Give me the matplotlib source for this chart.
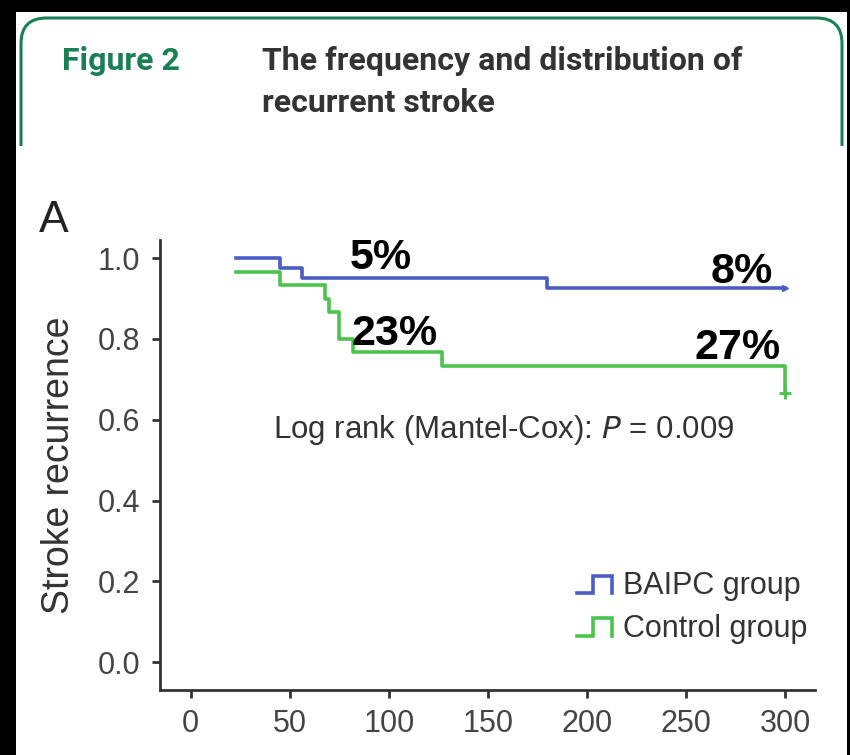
import matplotlib
matplotlib.use("Agg")
from matplotlib import pyplot as plt
from matplotlib.lines import Line2D
from matplotlib.legend_handler import HandlerBase
from matplotlib.patches import Rectangle, FancyBboxPatch

# Kaplan-Meier style steps
baipc_days = [23, 45, 56, 180, 300]
baipc_surv = [1.0, 0.975, 0.95, 0.925, 0.925]
control_days = [23, 45, 68, 70, 75, 82, 127, 300, 300]
control_surv = [0.967, 0.933, 0.9, 0.867, 0.8, 0.767, 0.733, 0.733, 0.667]

group_names = ["BAIPC group", "Control group"]
pct_labels = ["5%", "8%", "23%", "27%"]
pct_x = [96, 278, 103, 276]
pct_y = [1.0, 0.965, 0.812, 0.777]

x_ticks = [0, 50, 100, 150, 200, 250, 300]
y_ticks = [0.0, 0.2, 0.4, 0.6, 0.8, 1.0]

BLUE = "#4b5cc4"
GREEN = "#4cc44c"
HEAD_GREEN = "#1b7f55"
ARIAL = ["Liberation Sans", "DejaVu Sans"]

W, H = 850, 755


class StepHandler(HandlerBase):
    def create_artists(self, legend, orig_handle, xdescent, ydescent,
                       width, height, fontsize, trans):
        x0 = -xdescent
        y0 = -ydescent + height * 0.05
        y1 = -ydescent + height * 0.85
        xs = [x0, x0 + width * 0.45, x0 + width * 0.45, x0 + width, x0 + width]
        ys = [y0, y0, y1, y1, y0]
        line = Line2D(xs, ys, color=orig_handle.get_color(),
                      lw=orig_handle.get_linewidth(), solid_joinstyle="miter")
        line.set_transform(trans)
        return [line]


def fx(px):
    return px / W


def fy(py):
    return 1 - py / H


fig = plt.figure(figsize=(8.5, 7.55), dpi=100, facecolor="black")

# white page and the rounded green header frame (open at the bottom)
fig.patches.append(Rectangle((fx(16), 0), fx(847) - fx(16), fy(12),
                             transform=fig.transFigure, facecolor="white",
                             edgecolor="none", zorder=0))
fig.patches.append(FancyBboxPatch((fx(21), fy(300)), fx(842) - fx(21), fy(18) - fy(300),
                                  boxstyle="round,pad=0,rounding_size=0.03",
                                  transform=fig.transFigure, facecolor="white",
                                  edgecolor=HEAD_GREEN, lw=2.2, zorder=1,
                                  mutation_aspect=W / H))
fig.patches.append(Rectangle((fx(16), 0), fx(847) - fx(16), fy(146),
                             transform=fig.transFigure, facecolor="white",
                             edgecolor="none", zorder=2))

fig.text(fx(62), fy(61), "Figure 2", color=HEAD_GREEN, fontsize=23,
         fontweight="bold", family=["Roboto", "DejaVu Sans"], va="center")
fig.text(fx(262), fy(61), "The frequency and distribution of", color="#333333",
         fontsize=23, fontweight="bold", family=["Roboto", "DejaVu Sans"], va="center")
fig.text(fx(262), fy(103), "recurrent stroke", color="#333333",
         fontsize=23, fontweight="bold", family=["Roboto", "DejaVu Sans"], va="center")
fig.text(fx(39), fy(221), "A", color="#222222", fontsize=32, family=ARIAL, va="center")

ax = fig.add_axes([fx(160), fy(690), fx(815) - fx(160), fy(240) - fy(690)])
ax.set_zorder(5)
ax.set_facecolor("none")

ax.step(baipc_days, baipc_surv, where="post", color=BLUE, lw=2.6, label=group_names[0])
ax.step(control_days, control_surv, where="post", color=GREEN, lw=2.6, label=group_names[1])
ax.plot(baipc_days[-1], baipc_surv[-1], marker=">", ms=5, color=BLUE)
ax.plot(control_days[-1], control_surv[-1], marker="+", ms=8, mew=2, color=GREEN)

for label, x, y in zip(pct_labels, pct_x, pct_y):
    ax.text(x, y, label, fontsize=31, fontweight="bold", family=ARIAL,
            ha="center", va="center", color="black")

ax.text(0.524, 0.578, "Log rank (Mantel-Cox): $\\it{P}$ = 0.009", transform=ax.transAxes,
        fontsize=22.5, family=ARIAL, color="#333333", ha="center", va="center")

ax.set_xlim(-15.5, 315)
ax.set_ylim(-0.069, 1.045)
ax.set_xticks(x_ticks)
ax.set_yticks(y_ticks)
ax.set_yticklabels([f"{v:.1f}" for v in y_ticks])
ax.set_ylabel("Stroke recurrence", fontsize=27, family=ARIAL, color="#333333", labelpad=15)

for side in ["top", "right"]:
    ax.spines[side].set_visible(False)
for side in ["left", "bottom"]:
    ax.spines[side].set_linewidth(2)
    ax.spines[side].set_color("#333333")
ax.tick_params(direction="out", length=6, width=2, color="#333333",
               labelsize=22, labelcolor="#444444", pad=8)
for lbl in ax.get_xticklabels() + ax.get_yticklabels():
    lbl.set_family(ARIAL)

leg = ax.legend(handler_map={Line2D: StepHandler()}, loc="lower right",
                bbox_to_anchor=(1.03, 0.042), frameon=False, handlelength=1.15,
                handletextpad=0.35, labelspacing=0.42,
                prop={"family": ARIAL, "size": 22})
for t in leg.get_texts():
    t.set_color("#333333")

fig.savefig("out.png", dpi=100, facecolor=fig.get_facecolor())
